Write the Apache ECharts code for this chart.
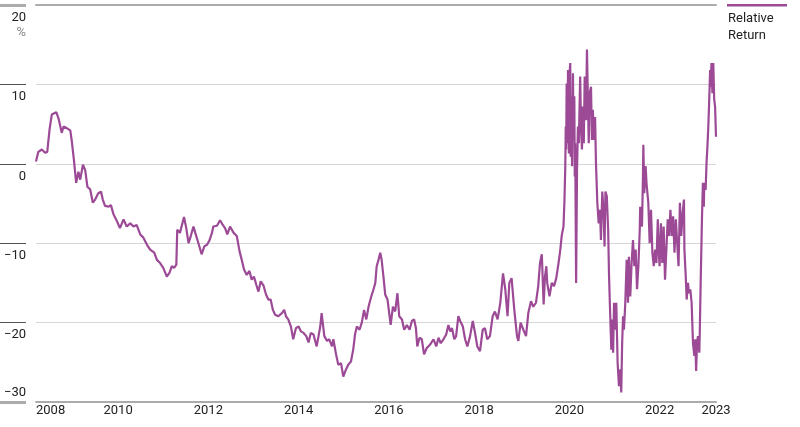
<!DOCTYPE html>
<html>
<head>
  <meta charset="utf-8">
  <title>Relative Return</title>
  <script src="https://cdn.jsdelivr.net/npm/echarts@6/dist/echarts.min.js"></script>
</head>
<style>
  html,
  body {
    height: 100%;
    margin: 0;
    padding: 0;
    background: #fff;
  }
</style>

<body>
  <div id="chart" style="width: 800px; height: 427px;"></div>

  <script>
    // dates are decimal years, values are relative return in %
    const dates = [
      2008.18, 2008.23, 2008.31, 2008.38, 2008.43, 2008.48, 2008.53, 2008.63, 2008.68, 2008.75,
      2008.79, 2008.86, 2008.94, 2008.97, 2009.02, 2009.07, 2009.12, 2009.16, 2009.22, 2009.27,
      2009.32, 2009.38, 2009.44, 2009.49, 2009.56, 2009.62, 2009.66, 2009.71, 2009.79, 2009.84,
      2009.90, 2009.98, 2010.04, 2010.12, 2010.19, 2010.27, 2010.34, 2010.41, 2010.49, 2010.56,
      2010.64, 2010.71, 2010.80, 2010.86, 2010.93, 2011.00, 2011.08, 2011.14, 2011.19, 2011.24,
      2011.29, 2011.31, 2011.37, 2011.41, 2011.46, 2011.51, 2011.56, 2011.61, 2011.67, 2011.71,
      2011.78, 2011.85, 2011.91, 2011.97, 2012.02, 2012.08, 2012.11, 2012.19, 2012.26, 2012.32,
      2012.37, 2012.42, 2012.48, 2012.56, 2012.63, 2012.69, 2012.74, 2012.79, 2012.85, 2012.91,
      2012.96, 2013.01, 2013.06, 2013.11, 2013.16, 2013.22, 2013.28, 2013.33, 2013.38, 2013.43,
      2013.48, 2013.55, 2013.63, 2013.68, 2013.72, 2013.77, 2013.83, 2013.88, 2013.94, 2014.00,
      2014.05, 2014.11, 2014.17, 2014.22, 2014.27, 2014.33, 2014.40, 2014.48, 2014.51, 2014.57,
      2014.63, 2014.68, 2014.74, 2014.77, 2014.83, 2014.88, 2014.94, 2014.99, 2015.05, 2015.10,
      2015.16, 2015.21, 2015.25, 2015.29, 2015.35, 2015.40, 2015.45, 2015.50, 2015.55, 2015.60,
      2015.66, 2015.70, 2015.73, 2015.77, 2015.81, 2015.84, 2015.88, 2015.92, 2015.97, 2016.01,
      2016.04, 2016.09, 2016.14, 2016.19, 2016.23, 2016.29, 2016.34, 2016.40, 2016.46, 2016.51,
      2016.56, 2016.60, 2016.63, 2016.68, 2016.73, 2016.78, 2016.84, 2016.91, 2016.99, 2017.05,
      2017.10, 2017.15, 2017.21, 2017.27, 2017.32, 2017.36, 2017.40, 2017.45, 2017.49, 2017.54,
      2017.58, 2017.64, 2017.69, 2017.74, 2017.80, 2017.86, 2017.91, 2017.96, 2018.02, 2018.08,
      2018.13, 2018.18, 2018.24, 2018.30, 2018.35, 2018.41, 2018.47, 2018.53, 2018.58, 2018.63,
      2018.67, 2018.72, 2018.78, 2018.84, 2018.87, 2018.92, 2018.98, 2019.04, 2019.09, 2019.15,
      2019.20, 2019.26, 2019.31, 2019.35, 2019.39, 2019.43, 2019.46, 2019.49, 2019.51, 2019.56,
      2019.61, 2019.66, 2019.71, 2019.76, 2019.80, 2019.83, 2019.87, 2019.89, 2019.91, 2019.92,
      2019.93, 2019.94, 2019.96, 2019.97, 2019.99, 2020.00, 2020.02, 2020.03, 2020.05, 2020.06,
      2020.08, 2020.09, 2020.11, 2020.12, 2020.13, 2020.15, 2020.17, 2020.19, 2020.21, 2020.24,
      2020.26, 2020.28, 2020.30, 2020.32, 2020.34, 2020.37, 2020.39, 2020.41, 2020.43, 2020.45,
      2020.48, 2020.50, 2020.52, 2020.55, 2020.57, 2020.59, 2020.62, 2020.65, 2020.68, 2020.70,
      2020.73, 2020.76, 2020.78, 2020.80, 2020.83, 2020.86, 2020.88, 2020.90, 2020.93, 2020.95,
      2020.97, 2020.99, 2021.01, 2021.04, 2021.07, 2021.10, 2021.13, 2021.15, 2021.17, 2021.19,
      2021.21, 2021.24, 2021.27, 2021.30, 2021.32, 2021.35, 2021.38, 2021.41, 2021.44, 2021.47,
      2021.50, 2021.53, 2021.56, 2021.57, 2021.61, 2021.63, 2021.64, 2021.66, 2021.69, 2021.71,
      2021.73, 2021.75, 2021.78, 2021.81, 2021.84, 2021.87, 2021.90, 2021.93, 2021.96, 2021.98,
      2022.00, 2022.03, 2022.06, 2022.09, 2022.12, 2022.15, 2022.18, 2022.21, 2022.24, 2022.27,
      2022.30, 2022.33, 2022.36, 2022.39, 2022.42, 2022.45, 2022.48, 2022.51, 2022.54, 2022.55,
      2022.58, 2022.60, 2022.63, 2022.65, 2022.68, 2022.71, 2022.74, 2022.77, 2022.79, 2022.81,
      2022.83, 2022.85, 2022.88, 2022.89, 2022.91, 2022.94, 2022.96, 2022.98, 2022.99, 2023.02,
      2023.04, 2023.06, 2023.08, 2023.10, 2023.12, 2023.13, 2023.15, 2023.17, 2023.19, 2023.21,
      2023.23, 2023.25
    ];
    const relativeReturn = [
      0.3, 1.5, 1.8, 1.4, 1.5, 4.3, 6.2, 6.5, 5.7, 3.9,
      4.7, 4.5, 4.2, 3.0, 0.5, -2.4, -1.0, -2.0, -0.1, -0.8,
      -2.9, -3.2, -4.9, -4.5, -3.7, -3.5, -4.5, -5.3, -5.4, -5.2,
      -6.4, -7.3, -8.1, -7.0, -7.9, -7.5, -7.9, -7.7, -8.9, -9.3,
      -10.2, -10.8, -11.2, -12.1, -12.5, -13.1, -14.2, -13.7, -12.9, -13.1,
      -12.7, -8.3, -8.7, -8.5, -6.7, -8.1, -10.0, -9.1, -7.9, -8.7,
      -10.0, -11.4, -10.4, -10.2, -9.7, -8.7, -7.9, -7.8, -7.1, -7.7,
      -8.1, -8.9, -7.9, -8.7, -9.1, -11.0, -12.1, -13.3, -14.0, -13.5,
      -14.6, -14.2, -15.2, -16.1, -14.8, -15.3, -16.5, -17.1, -17.1, -18.4,
      -19.0, -19.2, -18.8, -18.4, -19.2, -19.6, -20.5, -22.1, -20.7, -20.5,
      -21.1, -21.3, -21.7, -22.5, -21.3, -21.5, -23.0, -20.5, -18.8, -21.7,
      -22.3, -22.1, -23.0, -22.1, -24.0, -25.3, -25.1, -26.8, -25.9, -25.3,
      -24.9, -23.4, -21.5, -20.5, -20.9, -20.0, -18.4, -19.6, -18.0, -16.9,
      -15.8, -15.0, -12.9, -12.1, -11.2, -12.1, -14.2, -16.5, -17.1, -16.9,
      -20.3, -18.0, -18.6, -16.3, -19.2, -19.6, -20.9, -20.3, -20.9, -19.8,
      -19.6, -20.7, -23.0, -21.9, -22.1, -24.0, -23.2, -22.8, -22.1, -23.0,
      -21.9, -22.6, -22.1, -21.5, -20.3, -21.1, -20.7, -22.1, -21.7, -19.2,
      -19.8, -20.5, -22.1, -23.0, -21.7, -19.8, -21.3, -23.0, -23.6, -20.9,
      -20.7, -22.1, -21.7, -19.2, -18.6, -19.6, -17.5, -13.8, -15.8, -19.2,
      -15.0, -14.4, -18.4, -21.7, -22.3, -20.0, -20.9, -21.7, -18.8, -17.3,
      -18.0, -17.5, -15.4, -12.5, -11.4, -17.7, -14.2, -12.9, -15.0, -16.7,
      -15.0, -15.4, -14.4, -12.5, -10.8, -9.1, -7.9, -4.9, -0.3, 4.7,
      1.8, 10.1, 2.6, 11.8, 1.3, 11.0, 12.7, 0.9, 8.5, -0.3,
      11.4, 4.7, 8.5, -1.6, 2.6, -15.0, -0.8, 4.7, 2.6, 11.0,
      4.3, 1.8, 7.2, 2.6, 11.0, 5.5, 14.4, 8.5, 2.6, 8.9,
      9.7, 3.0, 6.8, 3.0, 5.9, 0.1, -4.9, -7.5, -5.8, -9.6,
      -3.5, -6.2, -10.4, -3.5, -4.1, -8.3, -14.2, -18.0, -23.4, -19.6,
      -23.8, -17.5, -20.9, -17.5, -25.1, -28.0, -25.9, -28.8, -22.6, -19.2,
      -20.9, -17.5, -12.1, -17.5, -11.7, -16.7, -12.5, -9.6, -12.9, -10.8,
      -15.8, -12.9, -8.3, -5.4, -7.9, -2.0, 2.4, -3.7, -0.3, -2.4,
      -3.7, -4.9, -10.0, -5.8, -11.2, -12.9, -10.8, -12.5, -7.0, -10.8,
      -12.9, -7.5, -12.5, -7.9, -14.6, -10.8, -7.0, -9.1, -5.8, -9.1,
      -6.6, -11.2, -7.0, -10.0, -12.9, -4.9, -9.1, -6.2, -4.5, -10.8,
      -14.2, -17.1, -15.0, -16.3, -15.8, -17.5, -22.6, -24.2, -22.1, -26.1,
      -22.6, -21.7, -23.8, -21.3, -15.0, -6.6, -2.4, -5.4, -2.4, -3.3,
      0.1, 2.2, 4.7, 8.1, 11.8, 9.7, 12.7, 8.9, 12.7, 8.1,
      7.2, 3.4
    ];

    const yearTicks = [2008.18, 2010, 2012, 2014, 2016, 2018, 2020, 2022, 2023.25];
    const yearLabels = ['2008', '2010', '2012', '2014', '2016', '2018', '2020', '2022', '2023'];
    const valueTicks = [-20, -10, 0, 10, 20];

    const FONT = 'Roboto, "Liberation Sans", sans-serif';
    const PURPLE = '#9c4a96';

    const seriesData = dates.map((d, i) => [d, relativeReturn[i]]);

    function yearLabel(v) {
      let best = 0;
      yearTicks.forEach((t, i) => {
        if (Math.abs(t - v) < Math.abs(yearTicks[best] - v)) best = i;
      });
      return yearLabels[best];
    }

    function pct(v) {
      const s = v < 0 ? '\u2212' + Math.abs(v) : String(v);
      return v === 20 ? s + '\n{p|%}' : s;
    }

    const chart = echarts.init(document.getElementById('chart'));
    chart.setOption({
      animation: false,
      textStyle: { fontFamily: FONT },
      grid: { left: 36, right: 84, top: 5, bottom: 25 },
      xAxis: [{
        type: 'value',
        min: yearTicks[0],
        max: yearTicks[yearTicks.length - 1],
        axisLine: { onZero: false, lineStyle: { color: '#ababab', width: 2 } },
        axisTick: { show: false },
        splitLine: { show: false },
        axisLabel: {
          customValues: yearTicks,
          formatter: yearLabel,
          alignMinLabel: 'left',
          margin: 2,
          fontSize: 13,
          color: '#222',
          fontFamily: FONT
        }
      }, {
        // top border line
        type: 'value',
        position: 'top',
        min: yearTicks[0],
        max: yearTicks[yearTicks.length - 1],
        axisLine: { onZero: false, lineStyle: { color: '#ababab', width: 2 } },
        axisTick: { show: false },
        axisLabel: { show: false },
        splitLine: { show: false }
      }],
      yAxis: [{
        type: 'value',
        position: 'left',
        min: -30,
        max: 20,
        interval: 10,
        offset: 10,
        axisLine: { show: true, lineStyle: { color: 'rgba(0,0,0,0)' } },
        axisTick: {
          show: true,
          length: 26,
          lineStyle: { color: '#555', width: 1 }
        },
        axisLabel: {
          customValues: valueTicks,
          formatter: pct,
          verticalAlign: 'top',
          align: 'right',
          margin: 0,
          padding: [5, 0, 0, 0],
          fontSize: 13,
          lineHeight: 15,
          color: '#222',
          fontFamily: FONT,
          rich: { p: { color: '#888', fontSize: 13, fontFamily: FONT, lineHeight: 15 } }
        },
        splitLine: { lineStyle: { color: '#d6d6d6', width: 1 } }
      }, {
        // bottom label and the heavy end ticks
        type: 'value',
        position: 'left',
        min: -30,
        max: 20,
        interval: 10,
        offset: 10,
        axisLine: { show: false },
        axisTick: {
          show: true,
          length: 26,
          customValues: [-30, 20],
          lineStyle: { color: '#ababab', width: 3 }
        },
        axisLabel: {
          customValues: [-30],
          formatter: pct,
          verticalAlign: 'bottom',
          align: 'right',
          margin: 0,
          padding: [0, 0, 3, 0],
          fontSize: 13,
          color: '#222',
          fontFamily: FONT
        },
        splitLine: { show: false }
      }],
      graphic: [{
        type: 'rect',
        left: 727,
        top: 4,
        shape: { width: 60, height: 2.5 },
        style: { fill: PURPLE }
      }, {
        type: 'text',
        left: 728,
        top: 10,
        style: {
          text: 'Relative\nReturn',
          font: '13px ' + FONT,
          lineHeight: 17,
          fill: '#222'
        }
      }],
      series: [{
        type: 'line',
        name: 'Relative Return',
        xAxisIndex: 0,
        yAxisIndex: 0,
        data: seriesData,
        showSymbol: false,
        lineStyle: { color: PURPLE, width: 2.2 },
        itemStyle: { color: PURPLE }
      }]
    });
  </script>
</body>
</html>
